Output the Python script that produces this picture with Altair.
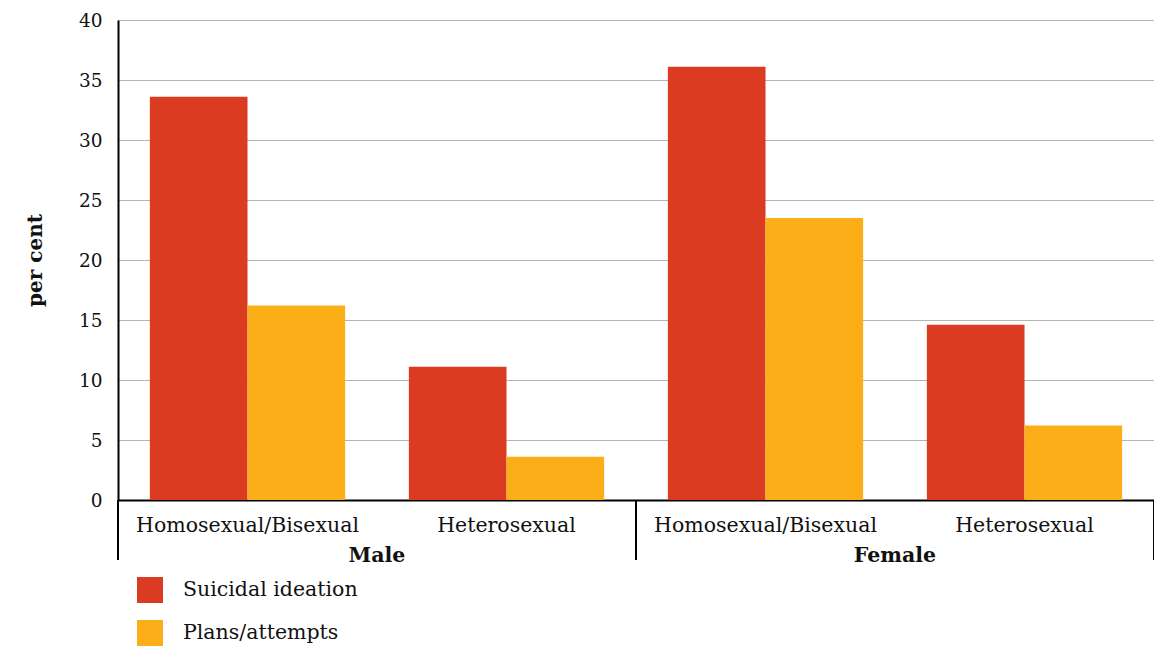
import altair as alt
import pandas as pd

groups = ["Male", "Female"]
orientations = ["Homosexual/Bisexual", "Heterosexual"]
series = ["Suicidal ideation", "Plans/attempts"]
ideation = [33.6, 11.1, 36.1, 14.6]
plans = [16.2, 3.6, 23.5, 6.2]
colors = ["#DA3B21", "#FBAE18"]

rows = []
keys = []
i = 0
for g in groups:
    for o in orientations:
        k = g + "|" + o
        keys.append(k)
        rows.append({"sex": g, "orient": o, "key": k, "series": series[0], "value": ideation[i]})
        rows.append({"sex": g, "orient": o, "key": k, "series": series[1], "value": plans[i]})
        i += 1
df = pd.DataFrame(rows)
df_sex = pd.DataFrame({"sex": groups})

FONT = "DejaVu Serif"

bars = alt.Chart(df).mark_bar().encode(
    x=alt.X("key:N", sort=keys,
            scale=alt.Scale(paddingInner=0.246, paddingOuter=0.123),
            axis=alt.Axis(title=None, labelExpr="split(datum.label, '|')[1]",
                          labelAngle=0, labelFontSize=20.5, labelFont=FONT, labelColor="#111",
                          labelLimit=0,
                          labelPadding=15, ticks=False, domainColor="black", domainWidth=2)),
    xOffset=alt.XOffset("series:N", sort=series,
                        scale=alt.Scale(paddingInner=0, paddingOuter=0)),
    y=alt.Y("value:Q", scale=alt.Scale(domain=[0, 40]),
            axis=alt.Axis(title="per cent", values=list(range(0, 41, 5)),
                          labelFontSize=18.5, labelFont=FONT, labelColor="#111", labelPadding=16,
                          ticks=False, domainColor="black", domainWidth=2,
                          gridColor="#b5b5b5", gridWidth=1,
                          titleFont=FONT, titleFontSize=20, titleFontWeight="bold",
                          titleColor="#111",
                          titleX=-83, titleY=240, titleAngle=-90,
                          titleAlign="center", titleBaseline="middle")),
    color=alt.Color("series:N", sort=series,
                    scale=alt.Scale(domain=series, range=colors),
                    legend=alt.Legend(title=None, orient="none", legendX=19, legendY=557,
                                      symbolType="square", symbolSize=676, symbolStrokeWidth=0,
                                      symbolOpacity=1, labelLimit=0,
                                      labelFont=FONT, labelFontSize=20.5, labelColor="#111",
                                      labelOffset=20, rowPadding=17)),
)

sx = alt.Scale(domain=groups, paddingInner=0, paddingOuter=0)

rule_l = alt.Chart(df_sex).mark_rule(color="black", strokeWidth=2).encode(
    x=alt.X("sex:N", bandPosition=0, scale=sx, axis=None),
    y=alt.value(480), y2=alt.value(540))
rule_r = alt.Chart(df_sex).mark_rule(color="black", strokeWidth=2).encode(
    x=alt.X("sex:N", bandPosition=1, scale=sx, axis=None),
    y=alt.value(480), y2=alt.value(540))
sex_text = alt.Chart(df_sex).mark_text(font=FONT, fontSize=20.5, fontWeight="bold",
                                       color="#111", baseline="middle").encode(
    x=alt.X("sex:N", bandPosition=0.5, scale=sx, axis=None),
    y=alt.value(536),
    text="sex:N")

chart = alt.layer(bars, rule_l, rule_r, sex_text).resolve_scale(x="independent").properties(
    width=1036, height=480,
    autosize=alt.AutoSizeParams(type="none"),
    padding={"left": 110, "top": 12, "right": 0, "bottom": 150},
).configure_view(stroke=None)

chart.save("out.html", embed_options={"renderer": "svg", "actions": False})
